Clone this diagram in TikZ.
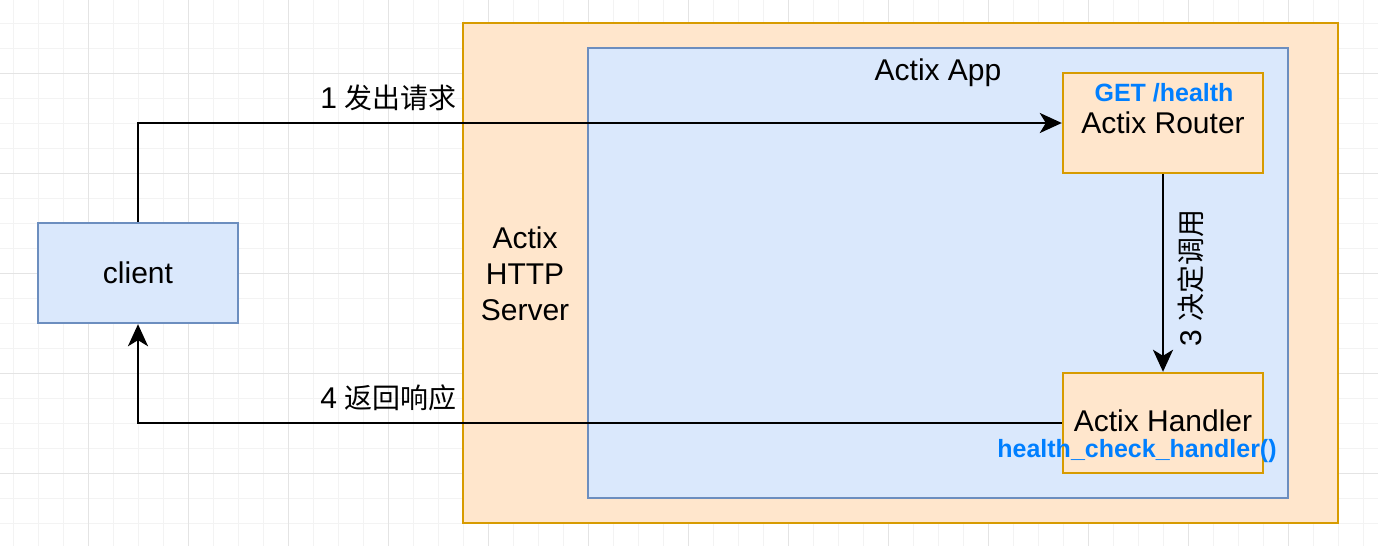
\documentclass[tikz,border=0pt]{standalone}
\usepackage{fontspec}
\setmainfont{Liberation Sans}
\newfontfamily\cjk{Noto Sans CJK SC}
\usetikzlibrary{arrows.meta}
\definecolor{bluefill}{HTML}{DAE8FC}
\definecolor{blueline}{HTML}{6C8EBF}
\definecolor{orfill}{HTML}{FFE6CC}
\definecolor{orline}{HTML}{D79B00}
\definecolor{linkblue}{HTML}{007FFF}
\definecolor{gridmin}{HTML}{F3F3F3}
\definecolor{gridmaj}{HTML}{E4E4E4}
\tikzset{
  bluebox/.style={draw=blueline,fill=bluefill,line width=2.4pt,inner sep=0pt},
  orbox/.style={draw=orline,fill=orfill,line width=2.4pt,inner sep=0pt},
  txt/.style={font=\fontsize{30}{36}\selectfont,text=black,inner sep=0pt},
  cjktxt/.style={font=\fontsize{28}{34}\selectfont,text=black,inner sep=0pt},
  bluetxt/.style={font=\fontsize{25}{30}\selectfont\bfseries,text=linkblue,inner sep=0pt},
  conn/.style={line width=2.6pt,draw=black,-{Stealth[length=22pt,width=20pt,inset=6pt]}},
}
\begin{document}
\begin{tikzpicture}[x=1pt,y=-1pt]
\useasboundingbox (0,0) rectangle (1378,546);
\fill[white] (0,0) rectangle (1378,546);
% grid
\foreach \gx in {13,38,...,1378} {\draw[gridmin,line width=1pt] (\gx,0) -- (\gx,546);}
\foreach \gy in {23,48,...,546} {\draw[gridmin,line width=1pt] (0,\gy) -- (1378,\gy);}
\foreach \gx in {88,188,...,1378} {\draw[gridmaj,line width=1pt] (\gx,0) -- (\gx,546);}
\foreach \gy in {73,173,...,546} {\draw[gridmaj,line width=1pt] (0,\gy) -- (1378,\gy);}
% boxes
\node[orbox,minimum width=875pt,minimum height=500pt] (server) at (900.5,273) {};
\node[bluebox,minimum width=700pt,minimum height=450pt] (app) at (938,273) {};
\node[bluebox,minimum width=200pt,minimum height=100pt] (client) at (138,273) {};
\node[orbox,minimum width=200pt,minimum height=100pt] (router) at (1163,123) {};
\node[orbox,minimum width=200pt,minimum height=100pt] (handler) at (1163,423) {};
% texts
\node[txt] (clienttxt) at (138,273) {client};
\node[txt,align=center] (servertxt) at (525,274) {Actix\\HTTP\\Server};
\node[txt] (apptxt) at (938,73) {Actix App};
\node[bluetxt] (gettxt) at (1164,93) {GET /health};
\node[txt] (routertxt) at (1163,123) {Actix Router};
\node[txt] (handlertxt) at (1163,421) {Actix Handler};
\node[bluetxt] (fntxt) at (1137,451) {health\_check\_handler()};
% connectors
\coordinate (c1) at (client.north |- router.west);
\draw[conn] (client.north) -- (c1) -- (router.west);
\coordinate (c4) at (client.south |- handler.west);
\draw[conn] (handler.west) -- (c4) -- (client.south);
\draw[conn] (router.south) -- (handler.north);
% labels
\node[cjktxt,anchor=east] (l1) at (457,98) {{\fontsize{30}{36}\selectfont 1} {\cjk 发出请求}};
\node[cjktxt,anchor=east] (l4) at (457,398) {{\fontsize{30}{36}\selectfont 4} {\cjk 返回响应}};
\node[cjktxt,rotate=90] (l3) at (1191,278) {{\fontsize{30}{36}\selectfont 3} {\cjk 决定调用}};
\end{tikzpicture}
\end{document}
